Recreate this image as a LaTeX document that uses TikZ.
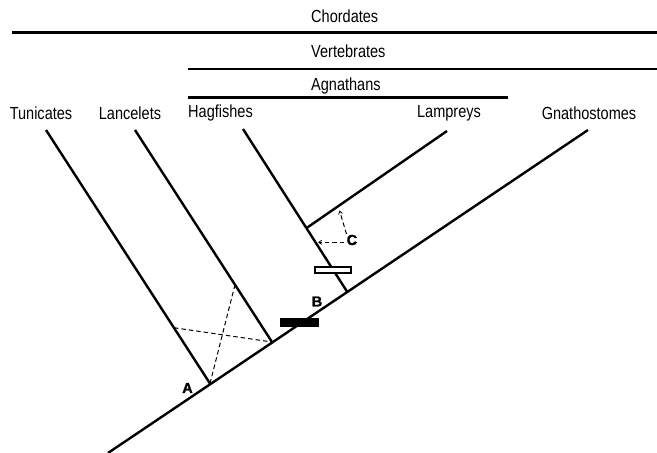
\documentclass[tikz,border=0pt]{standalone}
\usepackage{fontspec}
\setmainfont{Liberation Sans}
\newfontfamily\narrowsans[FakeStretch=0.83]{Liberation Sans}
\newfontfamily\heavysans[FakeBold=1.5]{Liberation Sans Bold}
\usetikzlibrary{calc,arrows.meta}
\begin{document}
\begin{tikzpicture}[x=1pt,y=-1pt,
  branch/.style={line width=2.4pt,line cap=butt},
  bar/.style={line width=2.6pt},
  dsh/.style={line width=1pt,dash pattern=on 4.5pt off 3pt},
  lbl/.style={font=\narrowsans\fontsize{17.5}{19}\selectfont,inner sep=0pt},
  letterlbl/.style={font=\heavysans\fontsize{14.5}{16}\selectfont,inner sep=0pt}]
\useasboundingbox (0,0) rectangle (657,453);
% labels
\node[lbl] (tun) at (41,113) {Tunicates};
\node[lbl] (lan) at (130,113) {Lancelets};
\node[lbl,anchor=west] (hag) at (188,113) {Hagfishes};
\node[lbl] (lam) at (449,113) {Lampreys};
\node[lbl] (gna) at (589,113) {Gnathostomes};
\node[lbl,anchor=west] (chl) at (311,16) {Chordates};
\node[lbl,anchor=west] (vel) at (311,51) {Vertebrates};
\node[lbl,anchor=west] (agl) at (311,86) {Agnathans};
% group bars
\coordinate (c1) at (12,32.7); \coordinate (c2) at (657,32.7);
\coordinate (v1) at (188,69); \coordinate (v2) at (657,69);
\coordinate (a1) at (188,97.7); \coordinate (a2) at (508,97.7);
\draw[bar] (c1) -- (c2);
\draw[bar] (v1) -- (v2);
\draw[bar] (a1) -- (a2);
% tree coordinates
\coordinate (root) at (108,453);
\coordinate (gtip) at (588,130);
\coordinate (ttip) at (46,130);
\coordinate (ltip) at (135,130);
\coordinate (htip) at (243,129);
\coordinate (mtip) at (447,131);
\coordinate (jA) at (210,383.5);
\coordinate (jL) at (272,342);
\coordinate (jB) at (347,291.5);
\coordinate (jH) at ($(htip)!0.61!(jB)$);
\draw[branch] (root) -- (gtip);
\draw[branch] (ttip) -- (jA);
\draw[branch] (ltip) -- (jL);
\draw[branch] (htip) -- (jB);
\draw[branch] (jH) -- (mtip);
% dashed cross
\coordinate (xA) at ($(ltip)!0.73!(jL)$);
\coordinate (xB) at ($(ttip)!0.78!(jA)$);
\draw[dsh] (jA) -- (xA);
\draw[dsh] (xB) -- (jL);
% character bars
\node[draw=none,fill=black,minimum width=39pt,minimum height=9pt,inner sep=0pt] (blk) at (299.5,322.5) {};
\node[draw=black,line width=1.8pt,fill=white,minimum width=36pt,minimum height=6pt,inner sep=0pt] (wht) at (333,269.7) {};
% letters
\node[letterlbl] (A) at (187.5,388) {A};
\node[letterlbl] (B) at (317,301.5) {B};
\node[letterlbl] (C) at (352,240) {C};
% dashed arrows from C
\coordinate (cL) at (318,242.3);
\coordinate (cU) at (339.5,210.5);
\draw[dsh,-{Straight Barb[length=3pt,width=4pt,line width=0.8pt]}] (344,242.3) -- (cL);
\draw[dsh,-{Straight Barb[length=3pt,width=4pt,line width=0.8pt]}] (346.5,234) -- (cU);
\end{tikzpicture}
\end{document}
